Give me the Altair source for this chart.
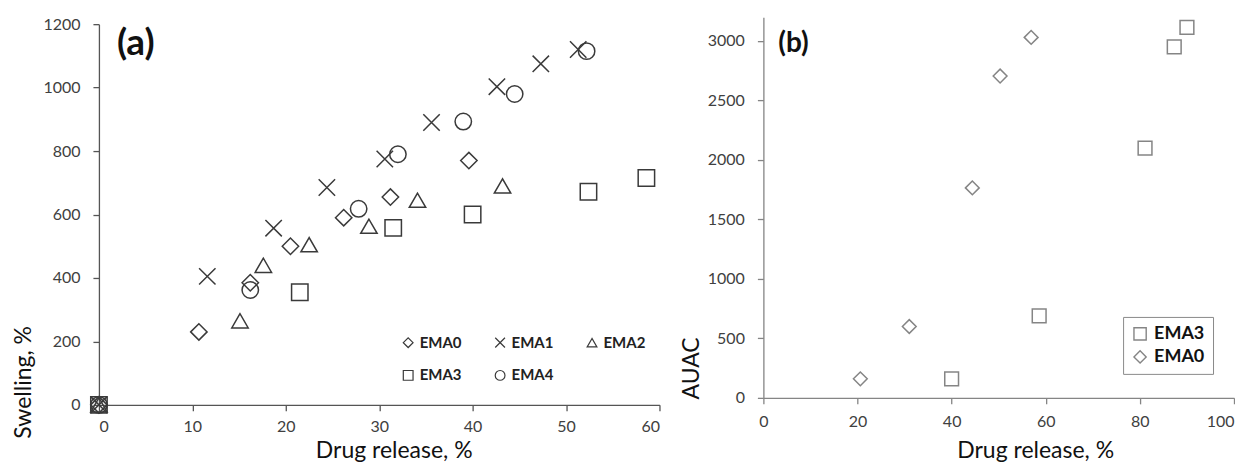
import altair as alt
import pandas as pd

# ---------------- Panel (a): Swelling vs drug release ----------------
ema0_x = [0, 10.7, 16.2, 20.5, 26.2, 31.2, 39.6]
ema0_y = [0, 230, 385, 500, 590, 655, 770]
ema1_x = [0, 11.6, 18.7, 24.4, 30.6, 35.6, 42.6, 47.3, 51.3]
ema1_y = [0, 405, 557, 685, 775, 890, 1003, 1075, 1120]
ema2_x = [0, 15.1, 17.6, 22.5, 28.9, 34.1, 43.2]
ema2_y = [0, 265, 440, 505, 563, 645, 690]
ema3_x = [0, 21.5, 31.5, 40.0, 52.4, 58.6]
ema3_y = [0, 355, 558, 600, 672, 715]
ema4_x = [0, 16.2, 27.8, 32.0, 39.0, 44.5, 52.2]
ema4_y = [0, 362, 618, 790, 893, 980, 1115]

series_a = ["EMA0", "EMA1", "EMA2", "EMA3", "EMA4"]
shapes_a = ["diamond", "M-1,-1L1,1M1,-1L-1,1", "triangle-up", "square", "circle"]

# ---------------- Panel (b): AUAC vs drug release ----------------
b_ema3_x = [40.0, 58.6, 81.1, 87.3, 90.0]
b_ema3_y = [160, 690, 2100, 2950, 3115]
b_ema0_x = [20.6, 31.0, 44.4, 50.3, 56.9]
b_ema0_y = [160, 600, 1765, 2705, 3030]

series_b = ["EMA3", "EMA0"]
shapes_b = ["square", "diamond"]

x_ticks_a = [0, 10, 20, 30, 40, 50, 60]
y_ticks_a = [0, 200, 400, 600, 800, 1000, 1200]
x_ticks_b = [0, 20, 40, 60, 80, 100]
y_ticks_b = [0, 500, 1000, 1500, 2000, 2500, 3000]

rows_a = []
for name, xs, ys in [("EMA0", ema0_x, ema0_y), ("EMA1", ema1_x, ema1_y),
                     ("EMA2", ema2_x, ema2_y), ("EMA3", ema3_x, ema3_y),
                     ("EMA4", ema4_x, ema4_y)]:
    for xv, yv in zip(xs, ys):
        rows_a.append({"series": name, "release": xv, "swelling": yv})
df_a = pd.DataFrame(rows_a)

rows_b = []
for name, xs, ys in [("EMA3", b_ema3_x, b_ema3_y), ("EMA0", b_ema0_x, b_ema0_y)]:
    for xv, yv in zip(xs, ys):
        rows_b.append({"series": name, "release": xv, "auac": yv})
df_b = pd.DataFrame(rows_b)

FONT = "Lato"
DARK = "#3a3a3a"
GREY = "#858585"

axis_common = dict(
    labelFont=FONT, labelFontSize=16, labelColor="#404040", format="d",
    titleFont=FONT, titleFontSize=23, titleFontWeight="normal", titleColor="#111111",
    grid=False, tickSize=6, domainWidth=1.3, tickWidth=1.3,
)

chart_a = alt.Chart(df_a).mark_point(
    filled=False, size=270, strokeWidth=1.5, color=DARK, opacity=1
).encode(
    x=alt.X("release:Q", title="Drug release, %",
            scale=alt.Scale(domain=[0, 60], nice=False),
            axis=alt.Axis(values=x_ticks_a, labelPadding=8, domainColor="#555555",
                          tickColor="#555555", titleX=295, titleY=53,
                          titleBaseline="alphabetic", titleAlign="center",
                          **axis_common)),
    y=alt.Y("swelling:Q", title="Swelling, %",
            scale=alt.Scale(domain=[0, 1200], nice=False, range=[388, 7]),
            axis=alt.Axis(values=y_ticks_a, labelPadding=13, domainColor="#555555",
                          tickColor="#555555", titleX=-68, titleY=365,
                          titleAngle=270, titleAlign="center",
                          titleBaseline="alphabetic", **axis_common)),
    shape=alt.Shape("series:N",
                    scale=alt.Scale(domain=series_a, range=shapes_a),
                    legend=alt.Legend(
                        title=None, orient="none", legendX=302, legendY=318,
                        direction="horizontal",
                        columns=3, columnPadding=31, rowPadding=17,
                        symbolSize=95, symbolStrokeWidth=1.2,
                        symbolStrokeColor=DARK, symbolFillColor="transparent",
                        labelFont=FONT, labelFontSize=15, labelFontWeight="bold",
                        labelColor="#222222", labelOffset=4, padding=0)),
).properties(
    width=561, height=388,
    title=alt.TitleParams("(a)", anchor="start", orient="top", offset=-47, dx=18,
                          frame="group",
                          font=FONT, fontSize=37, fontWeight="bold", color="#111111"),
)

chart_b = alt.Chart(df_b).mark_point(
    filled=False, size=190, strokeWidth=1.5, color=GREY, opacity=1
).encode(
    x=alt.X("release:Q", title="Drug release, %",
            scale=alt.Scale(domain=[0, 100], nice=False),
            axis=alt.Axis(values=x_ticks_b, labelPadding=10, domainColor=GREY,
                          tickColor=GREY, titleX=272, titleY=60,
                          titleBaseline="alphabetic", titleAlign="center",
                          labelAlign={"condition": {"test": "datum.value == 100", "value": "right"},
                                      "value": "center"},
                          **axis_common)),
    y=alt.Y("auac:Q", title="AUAC",
            scale=alt.Scale(domain=[0, 3200], nice=False),
            axis=alt.Axis(values=y_ticks_b, labelPadding=13, domainColor=GREY,
                          tickColor=GREY, titleX=-65, titleY=351,
                          titleAngle=270, titleAlign="center",
                          titleBaseline="alphabetic", **axis_common)),
    shape=alt.Shape("series:N",
                    scale=alt.Scale(domain=series_b, range=shapes_b),
                    legend=alt.Legend(
                        title=None, orient="none", legendX=360, legendY=300,
                        symbolSize=150, symbolStrokeWidth=1.4,
                        symbolStrokeColor=GREY, symbolFillColor="transparent",
                        labelFont=FONT, labelFontSize=18, labelFontWeight="bold",
                        labelColor="#111111", labelOffset=5, rowPadding=5,
                        padding=8, strokeColor="#8a8a8a", fillColor="white")),
).properties(
    width=471, height=381,
    title=alt.TitleParams("(b)", anchor="start", orient="top", offset=-41, dx=15,
                          frame="group",
                          font=FONT, fontSize=28, fontWeight="bold", color="#111111"),
)

chart = alt.hconcat(chart_a, chart_b, spacing=104, bounds="flush").resolve_scale(
    shape="independent", x="independent", y="independent"
).resolve_legend(shape="independent").configure_view(stroke=None).properties(
    padding={"left": 5, "top": 8, "right": 0, "bottom": 0}
)

chart.save("out.html", embed_options={"renderer": "svg", "actions": False})
